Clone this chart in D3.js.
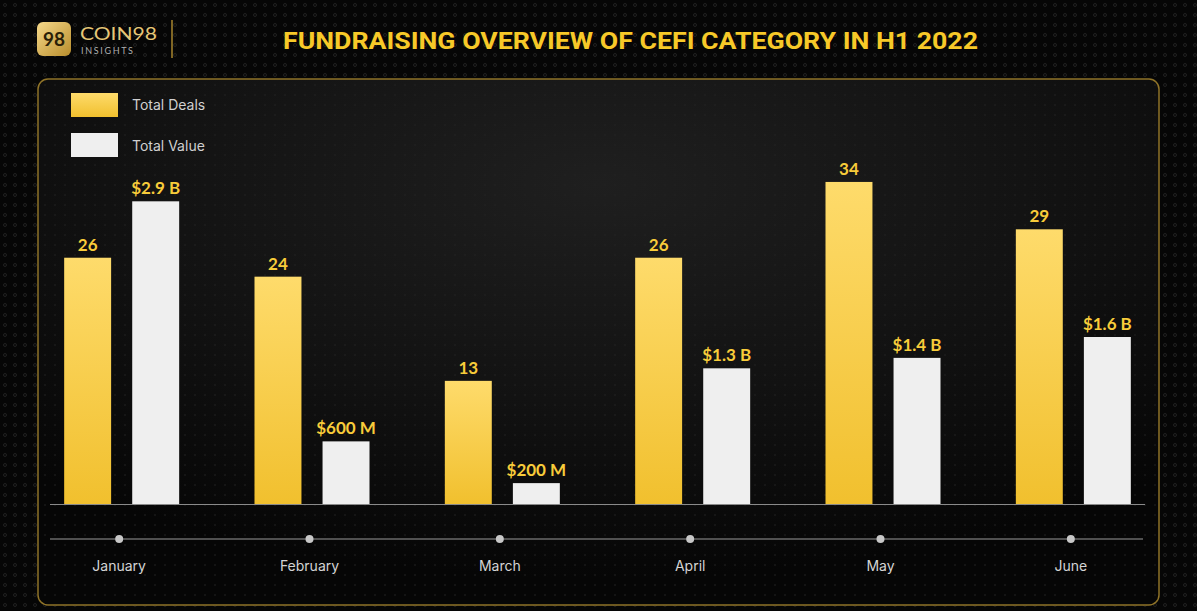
<!DOCTYPE html>
<html><head><meta charset="utf-8">
<script src="https://cdn.jsdelivr.net/npm/d3@7"></script>
<style>html,body{margin:0;padding:0;background:#070707;overflow:hidden}</style>
</head><body>
<svg id="c" width="1197" height="611"></svg>
<script>
const months = ["January","February","March","April","May","June"];
const totalDeals = [26, 24, 13, 26, 34, 29];
const totalValue = [2.9, 0.6, 0.2, 1.3, 1.4, 1.6]; // billions USD
const valueLabels = ["$2.9 B","$600 M","$200 M","$1.3 B","$1.4 B","$1.6 B"];
const seriesNames = ["Total Deals","Total Value"];

const svg = d3.select("#c");
const W = 1197, H = 611;
const defs = svg.append("defs");

// dot pattern
const pat = defs.append("pattern").attr("id","dots").attr("width",10).attr("height",10).attr("patternUnits","userSpaceOnUse");
pat.append("circle").attr("cx",5).attr("cy",5).attr("r",1.5).attr("fill","none").attr("stroke","#262626").attr("stroke-width",0.8);
const pat2 = defs.append("pattern").attr("id","dots2").attr("width",10).attr("height",10).attr("patternUnits","userSpaceOnUse");
pat2.append("circle").attr("cx",5).attr("cy",5).attr("r",1).attr("fill","#242424");

const pg = defs.append("radialGradient").attr("id","panelG").attr("cx","50%").attr("cy","20%").attr("r","75%");
pg.append("stop").attr("offset","0%").attr("stop-color","#1f1f1f");
pg.append("stop").attr("offset","55%").attr("stop-color","#121212");
pg.append("stop").attr("offset","100%").attr("stop-color","#060606");

const gold = defs.append("linearGradient").attr("id","goldG").attr("x1",0).attr("y1",0).attr("x2",0).attr("y2",1);
gold.append("stop").attr("offset","0%").attr("stop-color","#fedb6b");
gold.append("stop").attr("offset","100%").attr("stop-color","#f1c02e");

const logoG = defs.append("linearGradient").attr("id","logoG").attr("x1",0).attr("y1",0).attr("x2",1).attr("y2",1);
logoG.append("stop").attr("offset","0%").attr("stop-color","#f6d98a");
logoG.append("stop").attr("offset","100%").attr("stop-color","#b88d2c");

svg.append("rect").attr("width",W).attr("height",H).attr("fill","#060606");
svg.append("rect").attr("width",W).attr("height",H).attr("fill","url(#dots)");

// panel
svg.append("rect").attr("x",38).attr("y",79).attr("width",1121).attr("height",526).attr("rx",10)
  .attr("fill","url(#panelG)").attr("stroke","#8f7328").attr("stroke-width",1.5);
svg.append("rect").attr("x",39).attr("y",80).attr("width",1119).attr("height",524).attr("rx",10)
  .attr("fill","url(#dots2)").attr("opacity",0.6);

// header
svg.append("rect").attr("x",37).attr("y",22).attr("width",34).attr("height",34).attr("rx",6).attr("fill","url(#logoG)");
svg.append("text").attr("x",54).attr("y",46).attr("text-anchor","middle").attr("font-family","Lato, sans-serif")
  .attr("font-weight",700).attr("font-size",19).attr("fill","#2a1f08").text("98");
svg.append("text").attr("x",80).attr("y",40).attr("font-family","Lato, sans-serif").attr("font-size",17)
  .attr("font-weight",400).attr("fill","#e6c777").attr("textLength",77).attr("lengthAdjust","spacingAndGlyphs").text("COIN98");
svg.append("text").attr("x",81).attr("y",54).attr("font-family","Lato, sans-serif").attr("font-size",9)
  .attr("fill","#b0b0b0").attr("textLength",52).text("INSIGHTS");
svg.append("line").attr("x1",172).attr("x2",172).attr("y1",20).attr("y2",58).attr("stroke","#a8862e").attr("stroke-width",1.5);

svg.append("text").attr("x",283).attr("y",49).attr("font-family","Roboto, sans-serif").attr("font-weight",700)
  .attr("font-size",24).attr("fill","#f7c928").attr("textLength",695).attr("lengthAdjust","spacingAndGlyphs")
  .text("FUNDRAISING OVERVIEW OF CEFI CATEGORY IN H1 2022");

// legend
const legColors = ["url(#goldG)","#efefef"];
seriesNames.forEach((n,i)=>{
  svg.append("rect").attr("x",71).attr("y",93+i*40).attr("width",47).attr("height",24).attr("fill",legColors[i]);
  svg.append("text").attr("x",132).attr("y",110+i*41).attr("font-family","Inter, sans-serif").attr("font-size",14)
    .attr("fill","#d0d0d0").text(n);
});

// scales
const baseY = 504;
const x0 = d3.scaleBand().domain(months).range([24,1166]).paddingInner(0).paddingOuter(0);
const x1 = d3.scaleBand().domain(seriesNames).range([0,115]).paddingInner(0.31);
const yDeals = d3.scaleLinear().domain([0,36]).range([baseY, baseY-341]);
const yValue = d3.scaleLinear().domain([0,3.2]).range([baseY, baseY-334]);
const pairOff = m => x0(m) + x0.bandwidth()/2 - 55;

// baseline
svg.append("line").attr("x1",50).attr("x2",1145).attr("y1",baseY+0.5).attr("y2",baseY+0.5).attr("stroke","#8a8a8a").attr("stroke-width",1);

const g = svg.append("g");
g.selectAll("rect.deal").data(months).join("rect").attr("class","deal")
  .attr("x",(m)=>pairOff(m)+x1("Total Deals")).attr("width",x1.bandwidth())
  .attr("y",(m,i)=>yDeals(totalDeals[i])).attr("height",(m,i)=>baseY-yDeals(totalDeals[i]))
  .attr("fill","url(#goldG)");
g.selectAll("rect.val").data(months).join("rect").attr("class","val")
  .attr("x",(m)=>pairOff(m)+x1("Total Value")).attr("width",x1.bandwidth())
  .attr("y",(m,i)=>yValue(totalValue[i])).attr("height",(m,i)=>baseY-yValue(totalValue[i]))
  .attr("fill","#efefef");

const lblStyle = s => s.attr("text-anchor","middle").attr("font-family","Lato, sans-serif").attr("font-weight",700)
  .attr("font-size",17).attr("fill","#f8cc3a");
g.selectAll("text.dl").data(months).join("text").attr("class","dl").call(lblStyle)
  .attr("x",m=>pairOff(m)+x1("Total Deals")+x1.bandwidth()/2)
  .attr("y",(m,i)=>yDeals(totalDeals[i])-7).text((m,i)=>totalDeals[i]);
g.selectAll("text.vl").data(months).join("text").attr("class","vl").call(lblStyle)
  .attr("x",m=>pairOff(m)+x1("Total Value")+x1.bandwidth()/2)
  .attr("y",(m,i)=>yValue(totalValue[i])-7).text((m,i)=>valueLabels[i]);

// timeline axis
const tlY = 539;
svg.append("line").attr("x1",50).attr("x2",1143).attr("y1",tlY).attr("y2",tlY).attr("stroke","#6a6a6a").attr("stroke-width",1.5);
const ax = svg.append("g").attr("transform",`translate(0,${tlY})`)
  .call(d3.axisBottom(x0).tickSize(0).tickPadding(22));
ax.select(".domain").remove();
ax.selectAll(".tick text").attr("font-family","Inter, sans-serif").attr("font-size",14).attr("fill","#d4d4d4");
ax.selectAll(".tick").append("circle").attr("r",4).attr("fill","#c8c8c8");
</script>
</body></html>
